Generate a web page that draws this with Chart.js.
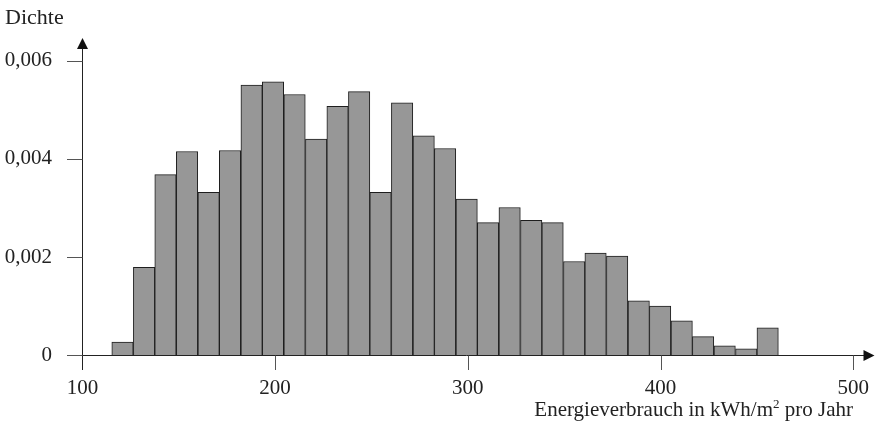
<!DOCTYPE html>
<html>
<head>
<meta charset="utf-8">
<script src="https://cdn.jsdelivr.net/npm/chart.js@4"></script>
<style>
  html, body { margin: 0; padding: 0; background: #fff; }
  #wrap { width: 875px; height: 428px; }
</style>
</head>
<body>
<div id="wrap"><canvas id="myChart"></canvas></div>
<script>
// bin centres (kWh/m² pro Jahr) and density per bin
var binCenters = [120.8, 132.0, 143.1, 154.3, 165.5, 176.6, 187.8, 198.9, 210.1, 221.3,
                  232.4, 243.6, 254.7, 265.9, 277.1, 288.2, 299.4, 310.5, 321.7, 332.9,
                  344.0, 355.2, 366.3, 377.5, 388.7, 399.8, 411.0, 422.1, 433.3, 444.5, 455.6];
var density = [0.00027, 0.00179, 0.00368, 0.00415, 0.00332, 0.00417, 0.00550, 0.00557, 0.00531, 0.00440,
               0.00507, 0.00537, 0.00332, 0.00514, 0.00447, 0.00421, 0.00318, 0.00270, 0.00301, 0.00275,
               0.00270, 0.00191, 0.00208, 0.00202, 0.00111, 0.00100, 0.00070, 0.00038, 0.00019, 0.00013, 0.00056];
var xTicks = [100, 200, 300, 400, 500];
var yTicks = [0, 0.002, 0.004, 0.006];

var serif = "'Liberation Serif', 'DejaVu Serif', serif";

// axes with arrows, tick marks and the two axis titles
var axesPlugin = {
  id: 'axesPlugin',
  afterDatasetsDraw: function(chart) {
    var c = chart.ctx, xs = chart.scales.x, ys = chart.scales.y, area = chart.chartArea;
    var x0 = Math.round(xs.getPixelForValue(100)) + 0.5;
    var y0 = Math.round(ys.getPixelForValue(0)) + 0.5;
    c.save();
    c.strokeStyle = '#222';
    c.lineWidth = 1;
    // x axis line
    c.beginPath(); c.moveTo(area.left, y0); c.lineTo(area.right - 6, y0); c.stroke();
    // y axis line
    c.beginPath(); c.moveTo(x0, area.bottom); c.lineTo(x0, area.top + 8); c.stroke();
    // arrows
    c.fillStyle = '#111';
    c.beginPath(); c.moveTo(area.right + 2, y0); c.lineTo(area.right - 9, y0 - 5.5); c.lineTo(area.right - 9, y0 + 5.5); c.closePath(); c.fill();
    c.beginPath(); c.moveTo(x0, area.top - 2); c.lineTo(x0 - 5.5, area.top + 9); c.lineTo(x0 + 5.5, area.top + 9); c.closePath(); c.fill();
    // tick marks
    c.strokeStyle = '#555';
    xTicks.forEach(function(v) {
      if (v === 100) return;
      var px = Math.round(xs.getPixelForValue(v)) + 0.5;
      c.beginPath(); c.moveTo(px, y0); c.lineTo(px, area.bottom); c.stroke();
    });
    yTicks.forEach(function(v) {
      var py = Math.round(ys.getPixelForValue(v)) + 0.5;
      c.beginPath(); c.moveTo(area.left, py); c.lineTo(x0, py); c.stroke();
    });
    // titles
    c.fillStyle = '#222';
    c.textBaseline = 'alphabetic';
    c.textAlign = 'left';
    c.font = '22px ' + serif;
    c.fillText('Dichte', 5, 24);
    var t1 = 'Energieverbrauch in kWh/m', t2 = ' pro Jahr';
    c.font = '21px ' + serif;
    var w1 = c.measureText(t1).width, w2 = c.measureText(t2).width;
    c.font = '13px ' + serif;
    var ws = c.measureText('2').width;
    var xEnd = 853, base = 416;
    var xStart = xEnd - w1 - ws - w2;
    c.font = '21px ' + serif;
    c.fillText(t1, xStart, base);
    c.fillText(t2, xStart + w1 + ws, base);
    c.font = '13px ' + serif;
    c.fillText('2', xStart + w1, base - 8);
    c.restore();
  }
};

var ctx = document.getElementById('myChart').getContext('2d');
var myChart = new Chart(ctx, {
  type: 'bar',
  data: {
    datasets: [{
      data: binCenters.map(function(x, i) { return { x: x, y: density[i] }; }),
      backgroundColor: '#979797',
      borderColor: '#1e1e1e',
      borderWidth: 1,
      categoryPercentage: 1.0,
      barPercentage: 1.0
    }]
  },
  options: {
    responsive: true,
    maintainAspectRatio: false,
    animation: false,
    layout: {
      padding: { top: 40, left: 5, right: 2, bottom: 0 }
    },
    plugins: {
      legend: { display: false },
      tooltip: { enabled: false }
    },
    scales: {
      x: {
        type: 'linear',
        min: 92,
        max: 510,
        offset: false,
        grid: { display: false, drawTicks: false, offset: false },
        border: { display: false },
        afterBuildTicks: function(scale) {
          scale.ticks = xTicks.map(function(v) { return { value: v }; });
        },
        afterFit: function(scale) { scale.height = 58; },
        ticks: {
          padding: 6,
          maxRotation: 0,
          color: '#222',
          font: { family: serif, size: 21 }
        }
      },
      y: {
        min: -0.0003,
        max: 0.00642,
        grid: { display: false, drawTicks: false },
        border: { display: false },
        afterBuildTicks: function(scale) {
          scale.ticks = yTicks.map(function(v) { return { value: v }; });
        },
        afterFit: function(scale) { scale.width = 62; },
        ticks: {
          padding: 15,
          color: '#222',
          font: { family: serif, size: 21 },
          callback: function(v) {
            return v === 0 ? '0' : v.toFixed(3).replace('.', ',');
          }
        }
      }
    }
  },
  plugins: [axesPlugin]
});
</script>
</body>
</html>
